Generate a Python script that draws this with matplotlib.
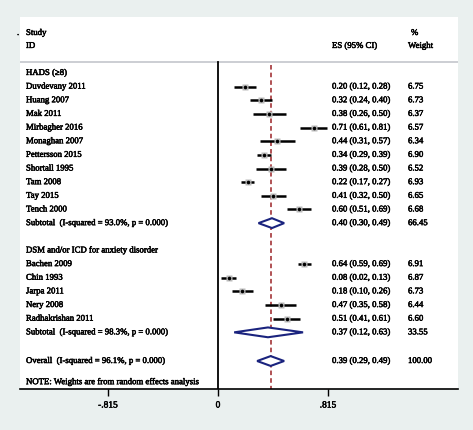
import matplotlib.pyplot as plt
import matplotlib.patheffects as pe
import numpy as np

plt.rcParams['font.family'] = ['Liberation Serif', 'DejaVu Serif']

# group 1: HADS (>=8)
hads_names = ["Duvdevany 2011", "Huang 2007", "Mak 2011", "Mirbagher 2016",
              "Monaghan 2007", "Pettersson 2015", "Shortall 1995", "Tam 2008",
              "Tay 2015", "Tench 2000"]
hads_es = [0.20, 0.32, 0.38, 0.71, 0.44, 0.34, 0.39, 0.22, 0.41, 0.60]
hads_lo = [0.12, 0.24, 0.26, 0.61, 0.31, 0.29, 0.28, 0.17, 0.32, 0.51]
hads_hi = [0.28, 0.40, 0.50, 0.81, 0.57, 0.39, 0.50, 0.27, 0.50, 0.69]
hads_w = [6.75, 6.73, 6.37, 6.57, 6.34, 6.90, 6.52, 6.93, 6.65, 6.68]
hads_sub = (0.40, 0.30, 0.49, 66.45)

# group 2: DSM and/or ICD
dsm_names = ["Bachen 2009", "Chin 1993", "Jarpa 2011", "Nery 2008", "Radhakrishan 2011"]
dsm_es = [0.64, 0.08, 0.18, 0.47, 0.51]
dsm_lo = [0.59, 0.02, 0.10, 0.35, 0.41]
dsm_hi = [0.69, 0.13, 0.26, 0.58, 0.61]
dsm_w = [6.91, 6.87, 6.73, 6.44, 6.60]
dsm_sub = (0.37, 0.12, 0.63, 33.55)

overall = (0.39, 0.29, 0.49, 100.00)
xticks = [-0.815, 0, 0.815]
xticklabels = ["-.815", "0", ".815"]

W, H = 473, 430
fig = plt.figure(figsize=(W / 100, H / 100), dpi=100, facecolor="#eaf0ef")
ax = fig.add_axes([20 / W, (H - 389) / H, 438 / W, (389 - 17) / H])
ax.set_facecolor("white")

def px(x):
    return (x - 218) / 135.0

ax.set_xlim(px(20), px(458))
ax.set_ylim(23.15, -4.1)
for s in ["top", "left", "right"]:
    ax.spines[s].set_visible(False)
ax.spines["bottom"].set_linewidth(1.2)
ax.set_yticks([])
ax.set_xticks(xticks)
ax.set_xticklabels(xticklabels, fontsize=6.8)
ax.tick_params(axis="x", length=5, width=1, pad=4)

fs = 6.3
thick = [pe.withStroke(linewidth=0.35, foreground="black")]
for lab in ax.get_xticklabels():
    lab.set_path_effects(thick)
xname, xes, xw = px(26), px(332), px(408)

def txt(x, y, s):
    ax.text(x, y, s, fontsize=fs, va="center", path_effects=thick)

# header
txt(xname, -2.93, "Study")
txt(xname, -1.98, "ID")
txt(px(17), -2.93, ".")
txt(xes, -1.98, "ES (95% CI)")
txt(px(411), -2.93, "%")
txt(xw, -1.98, "Weight")
ax.axhline(-0.8, color="#c4c6cc", lw=1.2)

# zero line and overall dashed line
ax.plot([0, 0], [-0.8, 23.15], color="black", lw=1.3)
ax.plot([overall[0], overall[0]], [-0.6, 23.15], color="#9b2226", lw=1.1,
        ls=(0, (3, 2)))

def study_rows(names, es, lo, hi, w, start):
    for i in range(len(names)):
        y = start + i
        txt(xname, y, names[i])
        ax.plot([lo[i], hi[i]], [y, y], color="black", lw=1.8, solid_capstyle="butt")
        ax.plot(es[i], y, marker="s", ms=np.sqrt(w[i]) * 1.8, color="#bdbdbd", mec="none")
        ax.plot(es[i], y, marker="o", ms=2.6, color="black", mec="none")
        txt(xes, y, f"{es[i]:.2f} ({lo[i]:.2f}, {hi[i]:.2f})")
        txt(xw, y, f"{w[i]:.2f}")

def diamond(vals, y, label):
    e, l, h, w = vals
    ax.fill([l, e, h, e, l], [y, y - 0.36, y, y + 0.36, y], fc="white",
            ec="#1a237e", lw=1.5, zorder=3)
    txt(xname, y, label)
    txt(xes, y, f"{e:.2f} ({l:.2f}, {h:.2f})")
    txt(xw, y, f"{w:.2f}")

txt(xname, 0, "HADS (\u22658)")
study_rows(hads_names, hads_es, hads_lo, hads_hi, hads_w, 1)
diamond(hads_sub, 11, "Subtotal  (I-squared = 93.0%, p = 0.000)")

txt(xname, 13, "DSM and/or ICD for anxiety disorder")
study_rows(dsm_names, dsm_es, dsm_lo, dsm_hi, dsm_w, 14)
diamond(dsm_sub, 19, "Subtotal  (I-squared = 98.3%, p = 0.000)")

diamond(overall, 21.1, "Overall  (I-squared = 96.1%, p = 0.000)")
txt(xname, 22.65, "NOTE: Weights are from random effects analysis")

fig.savefig("out.png", dpi=100, facecolor=fig.get_facecolor())
